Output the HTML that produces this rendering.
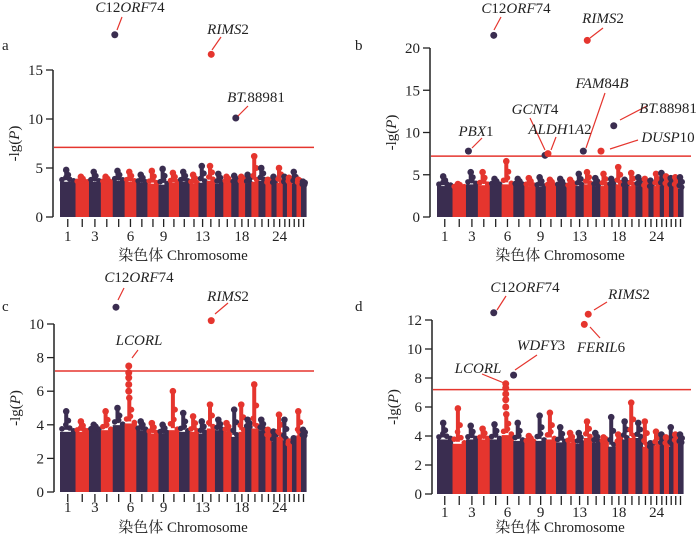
<!DOCTYPE html>
<html><head><meta charset="utf-8"><style>
body{margin:0;background:#fff}
svg{display:block}
text{font-family:"Liberation Serif","Times New Roman","Noto Serif CJK SC",serif;fill:#222}
.it{font-style:italic}
</style></head><body>
<svg id="chart" width="700" height="535" viewBox="0 0 700 535" xmlns="http://www.w3.org/2000/svg"></svg>
<script>
// chromosome lengths (Mb)
const chromLen=[158,137,121,121,121,119,113,113,105,104,107,91,84,84,85,81,75,66,64,72,71,61,52,63,43,51,46,46,51];
const tickLabels={1:"1",3:"3",6:"6",9:"9",13:"13",18:"18",24:"24"};
// per-panel base heights of dense mass
const baseA=[3.8,3.7,3.8,3.7,3.9,3.8,3.7,3.6,3.5,3.7,3.8,3.6,3.7,3.9,3.6,3.7,3.6,3.7,3.6,3.8,3.9,3.6,3.5,3.7,3.6,3.7,3.6,3.6,3.4];
const peakA=[4.8,4.1,4.6,4.1,4.7,4.6,4.3,4.7,4.9,4.5,4.6,4.3,5.2,5.2,4.4,4.1,4.2,4.1,4.3,6.2,5.0,3.8,4.1,5.0,4.1,4.0,4.6,3.8,3.6];
const baseB=[3.9,3.7,4.1,4.0,4.0,4.1,4.0,3.9,3.8,3.9,3.9,3.8,3.9,4.1,3.9,3.9,3.9,4.1,3.8,3.9,3.9,3.7,3.6,3.9,3.9,3.9,3.8,3.8,3.6];
const peakB=[4.8,3.9,5.3,5.3,4.5,6.6,4.5,4.6,4.7,4.4,4.5,4.4,5.1,5.3,4.6,5.1,4.5,5.9,4.4,5.2,4.7,4.5,4.3,5.1,5.2,4.8,4.6,4.7,4.7];
const baseC=[3.7,3.7,3.8,3.8,4.1,4.2,3.8,3.6,3.6,3.8,3.7,3.7,3.6,3.9,3.8,3.7,3.4,3.7,3.9,3.9,3.8,3.4,3.1,3.4,3.2,2.9,3.0,3.5,3.4];
const peakC=[4.8,4.2,4.0,4.8,5.0,5.6,4.2,4.1,4.0,6.0,4.7,4.5,4.2,5.2,4.3,4.1,4.9,5.2,4.3,6.4,4.3,3.7,3.6,4.6,4.3,3.0,3.2,4.8,3.7];
const baseD=[3.9,3.6,3.9,3.9,3.9,4.2,3.8,3.7,3.8,3.9,3.7,3.7,3.6,4.0,3.7,3.7,3.4,3.6,3.9,4.0,4.0,3.4,3.3,3.5,3.5,3.5,3.4,3.7,3.6];
const peakD=[4.9,5.9,4.7,4.5,4.8,5.5,4.9,4.0,5.4,5.6,4.6,4.2,4.2,5.0,4.2,3.9,5.3,4.1,5.0,6.3,4.9,5.0,3.5,4.3,4.1,3.9,4.6,4.1,4.1];
// significant SNPs: [genome position Mb, -lg(P), label]
const hitsA=[[558,18.6,"C12ORF74"],[1540,16.6,"RIMS2"],[1790,10.1,"BT.88981"]];
const hitsB=[[578,21.5,"C12ORF74"],[1530,20.9,"RIMS2"],[320,7.8,"PBX1"],[1100,7.3,"GCNT4"],[1130,7.5,"ALDH1A2"],[1490,7.8,"FAM84B"],[1670,7.8,"DUSP10"],[1800,10.8,"BT.88981"]];
const hitsC=[[570,11.0,"C12ORF74"],[1540,10.2,"RIMS2"],[700,6.0,""],[700,6.4,""],[700,6.8,""],[700,7.1,""],[700,7.5,"LCORL"]];
const hitsD=[[578,12.5,"C12ORF74"],[1540,12.4,"RIMS2"],[1500,11.7,"FERIL6"],[780,8.2,"WDFY3"],[700,6.0,""],[700,6.5,""],[700,6.9,""],[700,7.3,""],[700,7.6,"LCORL"]];
const yTicksA=[0,5,10,15],yTicksB=[0,5,10,15,20],yTicksC=[0,2,4,6,8,10],yTicksD=[0,2,4,6,8,10,12];

// layout (pixels)
const panels=[
 {id:"a",base:baseA,peak:peakA,hits:hitsA,ticks:yTicksA,ax:53,x0:60,x1:306,y0:217,ppu:9.8,thr:7.1,topY:70,letter:[2,50],title:[183,260],tl:[10,241],
  lab:{"C12ORF74":[130,12,117,30,122,17],"RIMS2":[228,34,212,50,221,37],"BT.88981":[256,102,238,116,248,106]}},
 {id:"b",base:baseB,peak:peakB,hits:hitsB,ticks:yTicksB,ax:430,x0:437,x1:683,y0:217,ppu:8.45,thr:7.2,topY:48,letter:[355,50],title:[560,260],tl:[10,241],
  lab:{"C12ORF74":[516,13,494,30,501,17],"RIMS2":[603,23,590,38,603,28],"PBX1":[476,136,472,148,482,138],"GCNT4":[535,114,530,118,545,150],"ALDH1A2":[560,134,556,137,551,150],"FAM84B":[602,88,605,93,586,148],"BT.88981":[668,113,620,120,647,106],"DUSP10":[668,142,610,149,638,140]}},
 {id:"c",base:baseC,peak:peakC,hits:hitsC,ticks:yTicksC,ax:54,x0:60,x1:306,y0:492,ppu:16.8,thr:7.2,topY:324,letter:[2,311],title:[183,532],tl:[10,512],
  lab:{"C12ORF74":[139,282,118,300,124,288],"RIMS2":[228,301,215,314,228,303],"LCORL":[139,345,132,358,138,350]}},
 {id:"d",base:baseD,peak:peakD,hits:hitsD,ticks:yTicksD,ax:432,x0:437,x1:683,y0:494,ppu:14.5,thr:7.2,topY:320,letter:[355,311],title:[560,532],tl:[11,517],
  lab:{"C12ORF74":[525,292,497,310,506,296],"RIMS2":[629,299,594,310,607,302],"FERIL6":[601,352,590,327,600,338],"WDFY3":[541,350,515,370,537,355],"LCORL":[478,373,482,374,504,383]}}
];
const NAVY="#3a2d50",RED="#e5352e";
const svg=document.getElementById("chart");
const NS="http://www.w3.org/2000/svg";
function mk(tag,attrs,parent){const e=document.createElementNS(NS,tag);for(const k in attrs)e.setAttribute(k,attrs[k]);(parent||svg).appendChild(e);return e;}
const total=chromLen.reduce((a,b)=>a+b,0);
const starts=[];let acc=0;chromLen.forEach(l=>{starts.push(acc);acc+=l;});
function labelParts(t,txt){
  const rx=/([A-Z.]+)|([0-9]+)/g;let m;
  while((m=rx.exec(t))){const s=document.createElementNS(NS,"tspan");s.textContent=m[0];if(m[1])s.setAttribute("class","it");txt.appendChild(s);}
}
panels.forEach(p=>{
  const g=mk("g",{});
  
  
  const X=v=>p.x0+(v/total)*(p.x1-p.x0);
  const Y=v=>p.y0-v*p.ppu;
  chromLen.forEach((l,i)=>{
    const col=i%2===0?NAVY:RED;
    const cg=mk("g",{fill:col},g);
    
    
    const xs=X(starts[i]),xe=X(starts[i]+l);
    const b=p.base[i],pk=p.peak[i];
    mk("rect",{x:xs,y:Y(b)+2,width:xe-xs+0.6,height:b*p.ppu-2},cg);
    // bumpy top edge of dense points
    const n=Math.max(2,Math.round((xe-xs)/3.5));
    for(let k=0;k<n;k++){
      const fx=(k+0.5)/n;
      const hv=b+(pk-b)*0.35*Math.max(0,1-Math.abs(fx-0.4)*2.5);
      mk("circle",{cx:xs+fx*(xe-xs),cy:Y(hv)+1,r:2.8},cg);
    }
    const cx=xs+(xe-xs)*0.4;
    mk("rect",{x:cx-2,y:Y(pk),width:4,height:(pk-b)*p.ppu},cg);
    mk("circle",{cx:cx,cy:Y(pk),r:3.3},cg);
    mk("circle",{cx:cx+2,cy:Y((pk+b)/2),r:3},cg);
    const tx=(xs+xe)/2;
    const tk=mk("line",{x1:tx,x2:tx,y1:p.y0+2,y2:p.y0+p.tl[0],stroke:"#222","stroke-width":1.3},g);
    
    
    if(tickLabels[i+1]){const t=mk("text",{x:tx,y:p.tl[1],"font-size":15,"text-anchor":"middle"},g);t.textContent=tickLabels[i+1];
      
      }
  });
  const th=mk("line",{x1:p.ax+1,x2:p.x1+8,y1:Y(p.thr),y2:Y(p.thr),stroke:RED,"stroke-width":1.5},g);
  
  
  p.hits.forEach(h=>{
    const chr=starts.findIndex((s,i)=>h[0]>=s&&h[0]<s+chromLen[i]);
    const c=mk("circle",{cx:X(h[0]),cy:Y(h[1]),r:3.5,fill:chr%2===0?NAVY:RED},g);
    
    
    const L=p.lab[h[2]];
    if(h[2]&&L){
      const ln=mk("line",{x1:L[2],y1:L[3],x2:L[4],y2:L[5],stroke:RED,"stroke-width":1.2},g);
      
      
      const t=mk("text",{x:L[0],y:L[1],"font-size":15,"text-anchor":"middle"},g);
      labelParts(h[2],t);
      
      
    }
  });
  const ya=mk("line",{x1:p.ax,x2:p.ax,y1:Y(p.ticks[p.ticks.length-1]),y2:p.y0,stroke:"#222","stroke-width":1.5},g);
  
  
  p.ticks.forEach(v=>{
    mk("line",{x1:p.ax-7,x2:p.ax,y1:Y(v),y2:Y(v),stroke:"#222","stroke-width":1.3},g);
    const t=mk("text",{x:p.ax-10,y:Y(v)+5,"font-size":15,"text-anchor":"end"},g);t.textContent=v;
    
    
  });
  const yt=mk("text",{x:0,y:0,"font-size":15,"text-anchor":"middle",transform:`translate(${p.ax-34},${(p.y0+p.topY)/2}) rotate(-90)`},g);
  yt.innerHTML='-lg(<tspan class="it">P</tspan>)';
  
  
  const xt=mk("text",{x:p.title[0],y:p.title[1],"font-size":15,"text-anchor":"middle"},g);
  xt.textContent="染色体 Chromosome";
  
  
  const lt=mk("text",{x:p.letter[0],y:p.letter[1],"font-size":15},g);
  lt.textContent=p.id;
  
  
});
</script>
</body></html>
